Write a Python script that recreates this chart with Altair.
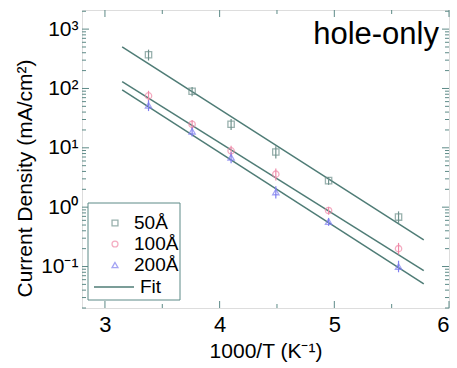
import altair as alt
import pandas as pd

# ---- data ----
inv_T = [3.38, 3.76, 4.10, 4.49, 4.95, 5.56]
j_50 = [370, 90, 25, 8.5, 2.8, 0.68]
j_100 = [75, 25, 8.9, 3.6, 0.88, 0.20]
j_200 = [52, 19, 6.9, 1.8, 0.57, 0.10]
err_lo = [0.80, 0.82, 0.80, 0.78, 0.85, 0.80]
err_hi = [1.22, 1.18, 1.22, 1.25, 1.15, 1.25]

fit_x = [3.15, 5.78]
fit_50 = [500, 0.28]
fit_100 = [131, 0.085]
fit_200 = [95, 0.051]

series = ["50Å", "100Å", "200Å"]
colors = ["#6f918c", "#f08aa8", "#7f7ff0"]
shapes = ["square", "circle", "triangle-up"]

x_ticks = [3, 4, 5, 6]
x_minor = [3.5, 4.5, 5.5]
y_ticks = [0.1, 1, 10, 100, 1000]

W, H = 367, 298
XDOM = [2.8, 6.0]
YDOM = [0.02, 2100]
FRAME = "#5d8a87"
LINE = "#4f7c76"
FONT = "Liberation Sans"

rows = []
for s, vals in zip(series, [j_50, j_100, j_200]):
    for x, v, lo, hi in zip(inv_T, vals, err_lo, err_hi):
        rows.append({"x": x, "y": v, "lo": v * lo, "hi": v * hi, "s": s})
pts = pd.DataFrame(rows)

frows = []
for s, vals in zip(series, [fit_50, fit_100, fit_200]):
    for x, v in zip(fit_x, vals):
        frows.append({"x": x, "y": v, "s": s})
fits = pd.DataFrame(frows)

xs = alt.Scale(domain=XDOM, nice=False, zero=False)
ys = alt.Scale(type="log", domain=YDOM, nice=False)

label_expr = ("datum.value == 0.1 ? '10⁻¹' : datum.value == 1 ? '10⁰' : "
              "datum.value == 10 ? '10¹' : datum.value == 100 ? '10²' : '10³'")

base_x = alt.X("x:Q", scale=xs,
               axis=alt.Axis(values=x_ticks, title="1000/T (K⁻¹)", format="d",
                             labelFontSize=22, titleFontSize=21, labelPadding=6,
                             titlePadding=5, ticks=False, domain=False, grid=False,
                             labelColor="black", titleColor="black",
                             labelFont=FONT, titleFont=FONT, titleFontWeight="normal"))
base_y = alt.Y("y:Q", scale=ys,
               axis=alt.Axis(values=y_ticks, labelExpr=label_expr,
                             title="Current Density (mA/cm²)",
                             labelFontSize=21, titleFontSize=21, labelPadding=4,
                             titlePadding=5, titleY=168, ticks=False, domain=False,
                             grid=False, labelColor="black", titleColor="black",
                             labelFont=FONT, titleFont=FONT, titleFontWeight="normal"))

color = alt.Color("s:N", scale=alt.Scale(domain=series, range=colors), legend=None)
shape = alt.Shape("s:N", scale=alt.Scale(domain=series, range=shapes), legend=None)

lines = alt.Chart(fits).mark_line(color=LINE, strokeWidth=1.5).encode(
    x=base_x, y=base_y, detail="s:N")

bars = alt.Chart(pts).mark_rule(strokeWidth=1.2).encode(
    x=alt.X("x:Q", scale=xs), y=alt.Y("lo:Q", scale=ys), y2="hi:Q", color=color)

points = alt.Chart(pts).mark_point(size=40, filled=False, strokeWidth=1.3).encode(
    x=alt.X("x:Q", scale=xs), y=alt.Y("y:Q", scale=ys), color=color, shape=shape)

# inward ticks
ymaj, ymin = [], []
for d in range(-2, 4):
    for k in range(1, 10):
        v = k * 10 ** d
        if YDOM[0] <= v <= YDOM[1]:
            (ymaj if k == 1 else ymin).append(v)

tick_layers = []
for vals, ln in [(ymaj, 7), (ymin, 4)]:
    df = pd.DataFrame({"v": vals})
    tick_layers.append(alt.Chart(df).mark_rule(color=FRAME, strokeWidth=1).encode(
        y=alt.Y("v:Q", scale=ys), x=alt.value(0), x2=alt.value(ln)))
    tick_layers.append(alt.Chart(df).mark_rule(color=FRAME, strokeWidth=1).encode(
        y=alt.Y("v:Q", scale=ys), x=alt.value(W - ln), x2=alt.value(W)))
for vals, ln in [(x_ticks, 7), (x_minor, 4)]:
    df = pd.DataFrame({"v": vals})
    tick_layers.append(alt.Chart(df).mark_rule(color=FRAME, strokeWidth=1).encode(
        x=alt.X("v:Q", scale=xs), y=alt.value(H - ln), y2=alt.value(H)))
    tick_layers.append(alt.Chart(df).mark_rule(color=FRAME, strokeWidth=1).encode(
        x=alt.X("v:Q", scale=xs), y=alt.value(0), y2=alt.value(ln)))

title = alt.Chart(pd.DataFrame({"t": ["hole-only"]})).mark_text(
    fontSize=31, font=FONT, align="right", baseline="middle", color="black").encode(
    text="t:N", x=alt.value(W - 10), y=alt.value(25))

# legend
leg_box = alt.Chart(pd.DataFrame({"a": [0]})).mark_rect(
    fill="white", stroke=FRAME, strokeWidth=1).encode(
    x=alt.value(6), x2=alt.value(98), y=alt.value(193), y2=alt.value(290))
leg_df = pd.DataFrame({"s": series, "yy": [213, 234, 255]})
leg_pts = alt.Chart(leg_df).mark_point(size=35, filled=False, strokeWidth=1.3).encode(
    x=alt.value(33), y=alt.Y("yy:Q", scale=None), color=color, shape=shape)
leg_txt = alt.Chart(leg_df).mark_text(fontSize=19, font=FONT, align="left",
                                      baseline="middle", color="black").encode(
    x=alt.value(52), y=alt.Y("yy:Q", scale=None), text="s:N")
leg_line = alt.Chart(pd.DataFrame({"a": [0]})).mark_rule(color=LINE, strokeWidth=1.5).encode(
    x=alt.value(12), x2=alt.value(52), y=alt.value(277))
leg_fit = alt.Chart(pd.DataFrame({"t": ["Fit"]})).mark_text(
    fontSize=19, font=FONT, align="left", baseline="middle", color="black").encode(
    x=alt.value(58), y=alt.value(277), text="t:N")

chart = alt.layer(lines, bars, points, *tick_layers, title,
                  leg_box, leg_pts, leg_txt, leg_line, leg_fit).properties(
    width=W, height=H,
    autosize=alt.AutoSizeParams(type="none"),
    padding={"left": 82, "top": 10, "right": 8, "bottom": 60},
).configure_view(stroke=FRAME, strokeWidth=1.5).configure(background="white")

chart.save("out.html", embed_options={"renderer": "svg", "actions": False})
